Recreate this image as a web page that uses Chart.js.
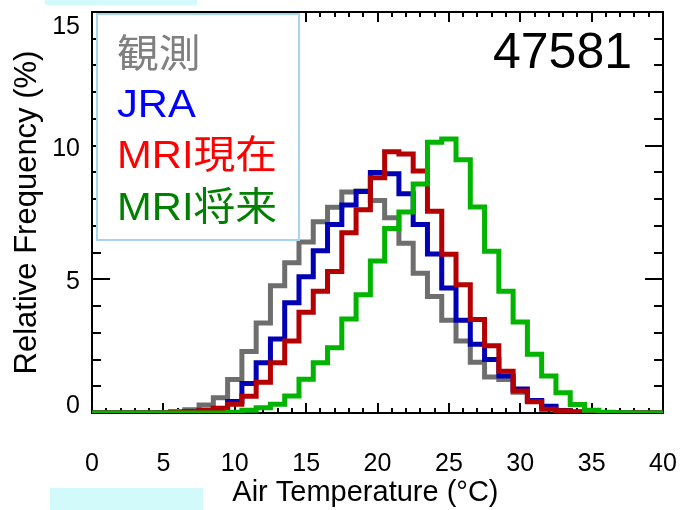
<!DOCTYPE html>
<html lang="ja">
<head>
  <meta charset="UTF-8" />
  <title>47581 Air Temperature</title>
  <script src="https://cdn.jsdelivr.net/npm/chart.js"></script>
  <style>
    html, body { margin: 0; padding: 0; background: #fff; }
    #wrap { width: 681px; height: 510px; }
  </style>
</head>
<body>
  <div id="wrap"><canvas id="graphique" width="681" height="510"></canvas></div>

  <script>
    // histogram, 1 degree bins centred on integers
    const station = "47581";
    const temps = [0,1,2,3,4,5,6,7,8,9,10,11,12,13,14,15,16,17,18,19,20,21,22,23,24,25,26,27,28,29,30,31,32,33,34,35,36,37,38,39,40];
    const kansoku   = [0,0,0,0,0,0.02,0.06,0.12,0.3,0.57,1.25,2.3,3.37,4.76,5.62,6.4,7.15,7.7,8.27,8.3,7.95,7.3,6.35,5.23,4.36,3.47,2.69,1.9,1.35,1.25,0.78,0.44,0.22,0.08,0.03,0.01,0,0,0,0,0];
    const jra       = [0,0,0,0,0,0,0,0.03,0.08,0.18,0.43,1.1,1.88,2.77,4.12,5.1,6.07,7.05,7.78,8.29,9.0,8.95,8.2,7.05,5.95,4.68,3.47,2.57,2.0,1.38,0.9,0.47,0.25,0.09,0.03,0.01,0,0,0,0,0];
    const mriNow    = [0,0,0,0,0,0,0.02,0.06,0.1,0.17,0.33,0.63,1.15,1.88,2.69,3.77,4.55,5.29,6.74,7.6,8.8,9.77,9.69,9.05,7.55,5.94,4.8,3.5,2.52,1.56,0.82,0.42,0.14,0.08,0.05,0.02,0.01,0,0,0,0];
    const mriFuture = [0,0,0,0,0,0,0,0,0,0,0.03,0.1,0.2,0.33,0.64,1.26,1.88,2.44,3.52,4.42,5.69,6.9,7.52,8.57,10.13,10.25,9.47,7.71,6.05,4.55,3.4,2.2,1.38,0.76,0.32,0.1,0.03,0.01,0,0,0];

    const seriesNames = ["観測", "JRA", "MRI現在", "MRI将来"];
    const lineColors  = ["#6e6e6e", "#0000b4", "#b40000", "#00b400"];
    const textColors  = ["#808080", "#0000ff", "#ff0000", "#008000"];

    const FONT = '"Liberation Sans", Arial, "Noto Sans CJK JP", sans-serif';

    function serie(i, values) {
      return {
        label: seriesNames[i],
        data: temps.map((t, k) => ({ x: t, y: values[k] })),
        borderColor: lineColors[i],
        borderWidth: 5,
        stepped: 'middle',
        fill: false,
        pointRadius: 0,
        borderJoinStyle: 'miter',
        borderCapStyle: 'butt',
        order: 4 - i   // green on top, grey underneath
      };
    }

    // frame + inward ticks on all four sides (IDL style)
    const cadre = {
      id: 'cadre',
      beforeDatasetsDraw(chart) {
        const { ctx, chartArea: a, scales: { x, y } } = chart;
        ctx.save();
        ctx.strokeStyle = '#000';
        ctx.lineWidth = 2;
        ctx.strokeRect(a.left, a.top, a.right - a.left, a.bottom - a.top);
        ctx.beginPath();
        for (let t = x.min; t <= x.max; t++) {
          const px = Math.round(x.getPixelForValue(t));
          const len = t % 5 === 0 ? 10 : 5;
          ctx.moveTo(px, a.bottom); ctx.lineTo(px, a.bottom - len);
          ctx.moveTo(px, a.top); ctx.lineTo(px, a.top + len);
        }
        for (let v = y.min; v <= y.max; v++) {
          const py = Math.round(y.getPixelForValue(v));
          const len = v % 5 === 0 ? 18 : 9;
          ctx.moveTo(a.left, py); ctx.lineTo(a.left + len, py);
          ctx.moveTo(a.right, py); ctx.lineTo(a.right - len, py);
        }
        ctx.stroke();
        ctx.restore();
      },
      afterDatasetsDraw(chart) {
        const { ctx } = chart;
        ctx.save();
        // legend box
        ctx.fillStyle = '#fff';
        ctx.fillRect(97, 14, 202, 226);
        ctx.strokeStyle = '#a4d6f4';
        ctx.lineWidth = 2;
        ctx.strokeRect(97, 14, 202, 226);
        ctx.font = '39px ' + FONT;
        ctx.textAlign = 'left';
        ctx.textBaseline = 'alphabetic';
        const baselines = [67, 117, 168, 220];
        seriesNames.forEach((n, i) => {
          ctx.save();
          ctx.translate(117, baselines[i]);
          ctx.scale(1.07, 1);
          ctx.fillStyle = textColors[i];
          ctx.fillText(n, 0, 0);
          ctx.restore();
        });
        // station number
        ctx.fillStyle = '#000';
        ctx.font = '50px ' + FONT;
        ctx.textAlign = 'right';
        ctx.fillText(station, 632, 68);
        ctx.restore();
      },
      afterDraw(chart) {
        const { ctx } = chart;
        ctx.save();
        ctx.fillStyle = '#d2fafa';
        ctx.fillRect(45, 0, 152, 5);
        ctx.fillRect(50, 488, 153, 22);
        ctx.restore();
      }
    };

    const ctx = document.getElementById('graphique').getContext('2d');
    new Chart(ctx, {
      type: 'line',
      data: {
        datasets: [
          serie(0, kansoku),
          serie(1, jra),
          serie(2, mriNow),
          serie(3, mriFuture)
        ]
      },
      options: {
        responsive: false,
        animation: false,
        layout: { padding: { top: 12, right: 18, left: 0, bottom: 0 } },
        plugins: { legend: { display: false }, tooltip: { enabled: false } },
        scales: {
          x: {
            type: 'linear', min: 0, max: 40,
            grid: { display: false, drawTicks: false },
            border: { display: false },
            ticks: { stepSize: 5, autoSkip: false, maxRotation: 0, padding: 36, color: '#000',
                     font: { family: FONT, size: 25 } },
            title: { display: true, text: 'Air Temperature (°C)   ', color: '#000',
                     font: { family: FONT, size: 29 }, padding: { top: 0, bottom: 0 } },
            afterFit(s) { s.height = 97; s.paddingLeft = 0; s.paddingRight = 0; }
          },
          y: {
            min: 0, max: 15,
            grid: { display: false, drawTicks: false },
            border: { display: false },
            ticks: {
              stepSize: 5, padding: 12, labelOffset: 3, color: '#000',
              callback(v) {
                if (v === 15) return ['', '15'];
                if (v === 0) return ['0', ''];
                return String(v);
              },
              font(c) {
                const v = c.tick ? c.tick.value : null;
                return { family: FONT, size: 25, lineHeight: v === 15 ? 1.0 : v === 0 ? 0.8 : 1.2 };
              }
            },
            title: { display: true, text: 'Relative Frequency (%)', color: '#000',
                     font: { family: FONT, size: 31 }, padding: { top: 9, bottom: 0 } },
            afterFit(s) { s.width = 92; s.paddingTop = 0; s.paddingBottom = 0; }
          }
        }
      },
      plugins: [cadre]
    });
  </script>
</body>
</html>
